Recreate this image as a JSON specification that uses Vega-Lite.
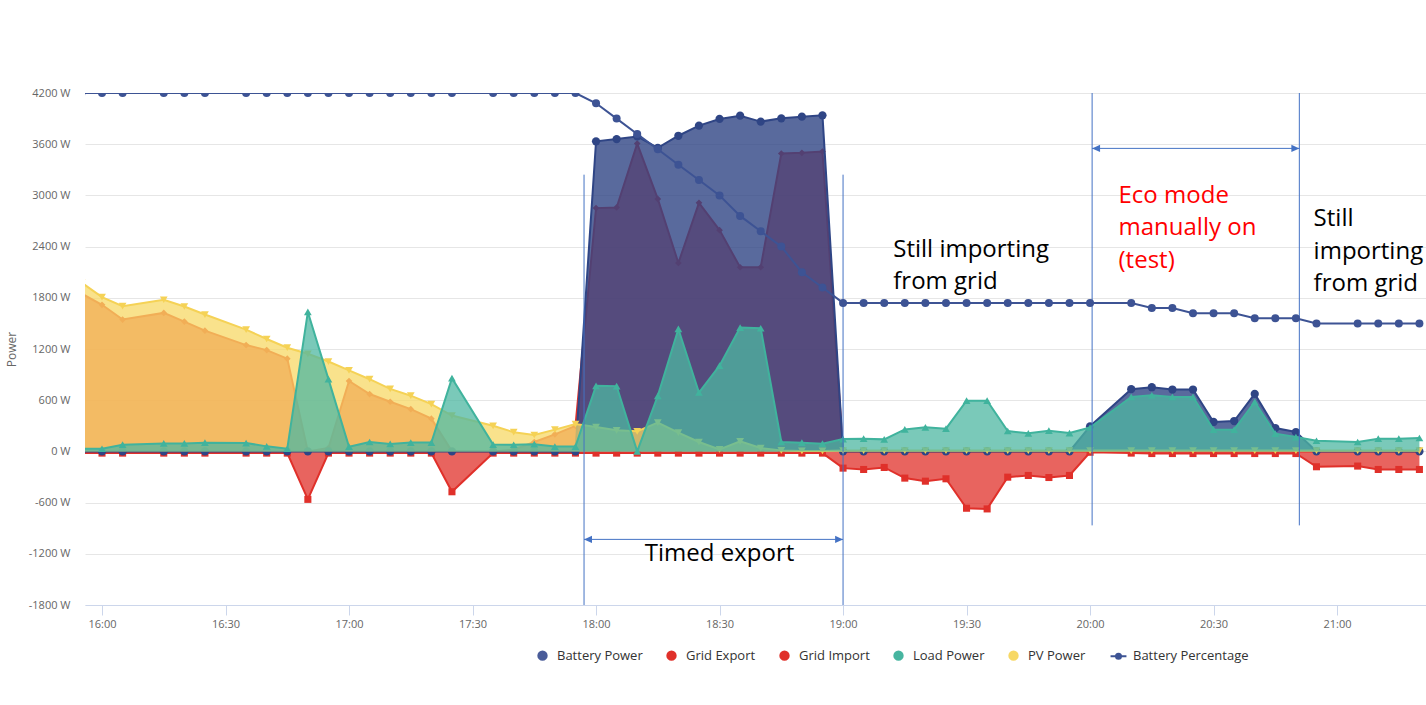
{
  "$schema": "https://vega.github.io/schema/vega-lite/v6.json",
  "width": 1341,
  "height": 512,
  "autosize": {"type": "none"},
  "padding": {"left": 85, "top": 93, "right": 0, "bottom": 100},
  "background": "white",
  "config": {"view": {"stroke": null}},
  "data": {"values": [
    {"t":"2024-01-01T15:55:00","bat":0,"exp":1850,"imp":-20,"load":30,"pv":1980,"pct":100},
    {"t":"2024-01-01T16:00:00","bat":0,"exp":1718,"imp":-20,"load":31,"pv":1808,"pct":100},
    {"t":"2024-01-01T16:05:00","bat":0,"exp":1545,"imp":-20,"load":79,"pv":1702,"pct":100},
    {"t":"2024-01-01T16:15:00","bat":0,"exp":1623,"imp":-20,"load":94,"pv":1777,"pct":100},
    {"t":"2024-01-01T16:20:00","bat":0,"exp":1521,"imp":-20,"load":94,"pv":1698,"pct":100},
    {"t":"2024-01-01T16:25:00","bat":0,"exp":1415,"imp":-20,"load":102,"pv":1604,"pct":100},
    {"t":"2024-01-01T16:35:00","bat":0,"exp":1246,"imp":-20,"load":98,"pv":1427,"pct":100},
    {"t":"2024-01-01T16:40:00","bat":0,"exp":1187,"imp":-20,"load":59,"pv":1317,"pct":100},
    {"t":"2024-01-01T16:45:00","bat":0,"exp":1087,"imp":-20,"load":31,"pv":1215,"pct":100},
    {"t":"2024-01-01T16:50:00","bat":0,"exp":0,"imp":-562,"load":1634,"pv":1144,"pct":100},
    {"t":"2024-01-01T16:55:00","bat":0,"exp":40,"imp":-20,"load":847,"pv":1053,"pct":100},
    {"t":"2024-01-01T17:00:00","bat":0,"exp":825,"imp":-20,"load":55,"pv":950,"pct":100},
    {"t":"2024-01-01T17:05:00","bat":0,"exp":672,"imp":-20,"load":110,"pv":846,"pct":100},
    {"t":"2024-01-01T17:10:00","bat":0,"exp":582,"imp":-20,"load":87,"pv":733,"pct":100},
    {"t":"2024-01-01T17:15:00","bat":0,"exp":495,"imp":-20,"load":103,"pv":653,"pct":100},
    {"t":"2024-01-01T17:20:00","bat":0,"exp":384,"imp":-20,"load":103,"pv":554,"pct":100},
    {"t":"2024-01-01T17:25:00","bat":0,"exp":0,"imp":-473,"load":859,"pv":420,"pct":100},
    {"t":"2024-01-01T17:35:00","bat":0,"exp":0,"imp":-20,"load":80,"pv":300,"pct":100},
    {"t":"2024-01-01T17:40:00","bat":0,"exp":20,"imp":-20,"load":78,"pv":225,"pct":100},
    {"t":"2024-01-01T17:45:00","bat":0,"exp":110,"imp":-20,"load":85,"pv":192,"pct":100},
    {"t":"2024-01-01T17:50:00","bat":0,"exp":200,"imp":-20,"load":57,"pv":255,"pct":100},
    {"t":"2024-01-01T17:55:00","bat":0,"exp":300,"imp":-20,"load":57,"pv":320,"pct":100},
    {"t":"2024-01-01T18:00:00","bat":3634,"exp":2851,"imp":-20,"load":768,"pv":286,"pct":98},
    {"t":"2024-01-01T18:05:00","bat":3660,"exp":2859,"imp":-20,"load":765,"pv":247,"pct":95},
    {"t":"2024-01-01T18:10:00","bat":3691,"exp":3607,"imp":-20,"load":0,"pv":235,"pct":92},
    {"t":"2024-01-01T18:15:00","bat":3556,"exp":2959,"imp":-20,"load":651,"pv":337,"pct":89},
    {"t":"2024-01-01T18:20:00","bat":3699,"exp":2208,"imp":-20,"load":1435,"pv":220,"pct":86},
    {"t":"2024-01-01T18:25:00","bat":3818,"exp":2913,"imp":-20,"load":690,"pv":110,"pct":83},
    {"t":"2024-01-01T18:30:00","bat":3896,"exp":2593,"imp":-20,"load":1004,"pv":24,"pct":80},
    {"t":"2024-01-01T18:35:00","bat":3934,"exp":2158,"imp":-20,"load":1451,"pv":118,"pct":76},
    {"t":"2024-01-01T18:40:00","bat":3865,"exp":2158,"imp":-20,"load":1443,"pv":39,"pct":73},
    {"t":"2024-01-01T18:45:00","bat":3903,"exp":3491,"imp":-20,"load":110,"pv":12,"pct":70},
    {"t":"2024-01-01T18:50:00","bat":3923,"exp":3499,"imp":-20,"load":102,"pv":5,"pct":65},
    {"t":"2024-01-01T18:55:00","bat":3938,"exp":3514,"imp":-20,"load":90,"pv":5,"pct":62},
    {"t":"2024-01-01T19:00:00","bat":0,"exp":0,"imp":-196,"load":145,"pv":10,"pct":59},
    {"t":"2024-01-01T19:05:00","bat":0,"exp":0,"imp":-212,"load":149,"pv":10,"pct":59},
    {"t":"2024-01-01T19:10:00","bat":0,"exp":0,"imp":-188,"load":141,"pv":10,"pct":59},
    {"t":"2024-01-01T19:15:00","bat":0,"exp":0,"imp":-313,"load":258,"pv":10,"pct":59},
    {"t":"2024-01-01T19:20:00","bat":0,"exp":0,"imp":-349,"load":282,"pv":10,"pct":59},
    {"t":"2024-01-01T19:25:00","bat":0,"exp":0,"imp":-321,"load":266,"pv":10,"pct":59},
    {"t":"2024-01-01T19:30:00","bat":0,"exp":0,"imp":-666,"load":595,"pv":10,"pct":59},
    {"t":"2024-01-01T19:35:00","bat":0,"exp":0,"imp":-674,"load":595,"pv":10,"pct":59},
    {"t":"2024-01-01T19:40:00","bat":0,"exp":0,"imp":-302,"load":239,"pv":10,"pct":59},
    {"t":"2024-01-01T19:45:00","bat":0,"exp":0,"imp":-282,"load":212,"pv":10,"pct":59},
    {"t":"2024-01-01T19:50:00","bat":0,"exp":0,"imp":-306,"load":243,"pv":10,"pct":59},
    {"t":"2024-01-01T19:55:00","bat":0,"exp":0,"imp":-282,"load":215,"pv":10,"pct":59},
    {"t":"2024-01-01T20:00:00","bat":294,"exp":0,"imp":-10,"load":280,"pv":10,"pct":59},
    {"t":"2024-01-01T20:10:00","bat":729,"exp":0,"imp":-20,"load":638,"pv":10,"pct":59},
    {"t":"2024-01-01T20:15:00","bat":752,"exp":0,"imp":-25,"load":658,"pv":10,"pct":58},
    {"t":"2024-01-01T20:20:00","bat":725,"exp":0,"imp":-25,"load":638,"pv":10,"pct":58},
    {"t":"2024-01-01T20:25:00","bat":725,"exp":0,"imp":-25,"load":638,"pv":10,"pct":57},
    {"t":"2024-01-01T20:30:00","bat":345,"exp":0,"imp":-25,"load":255,"pv":10,"pct":57},
    {"t":"2024-01-01T20:35:00","bat":356,"exp":0,"imp":-25,"load":255,"pv":10,"pct":57},
    {"t":"2024-01-01T20:40:00","bat":674,"exp":0,"imp":-25,"load":580,"pv":10,"pct":56},
    {"t":"2024-01-01T20:45:00","bat":274,"exp":0,"imp":-25,"load":208,"pv":10,"pct":56},
    {"t":"2024-01-01T20:50:00","bat":227,"exp":0,"imp":-25,"load":168,"pv":10,"pct":56},
    {"t":"2024-01-01T20:55:00","bat":0,"exp":0,"imp":-180,"load":125,"pv":10,"pct":55},
    {"t":"2024-01-01T21:05:00","bat":0,"exp":0,"imp":-172,"load":110,"pv":10,"pct":55},
    {"t":"2024-01-01T21:10:00","bat":0,"exp":0,"imp":-212,"load":149,"pv":10,"pct":55},
    {"t":"2024-01-01T21:15:00","bat":0,"exp":0,"imp":-212,"load":149,"pv":10,"pct":55},
    {"t":"2024-01-01T21:20:00","bat":0,"exp":0,"imp":-212,"load":157,"pv":10,"pct":55}
  ]},
  "datasets": {
    "vlines": [
      {"t":"2024-01-01T17:57:05","top":3243,"bottom":-1800},
      {"t":"2024-01-01T19:00:00","top":3243,"bottom":-1800},
      {"t":"2024-01-01T20:00:30","top":4200,"bottom":-867},
      {"t":"2024-01-01T20:50:50","top":4200,"bottom":-867}
    ],
    "arrows": [
      {"start":"2024-01-01T17:57:05","end":"2024-01-01T19:00:00","level":-1031},
      {"start":"2024-01-01T20:00:30","end":"2024-01-01T20:50:50","level":3551}
    ],
    "notes": [
      {"t":"2024-01-01T19:12:12","level":2356,"text":"Still importing","group":"note"},
      {"t":"2024-01-01T19:12:12","level":1981,"text":"from grid","group":"note"},
      {"t":"2024-01-01T20:06:55","level":2988,"text":"Eco mode","group":"eco"},
      {"t":"2024-01-01T20:06:55","level":2613,"text":"manually on","group":"eco"},
      {"t":"2024-01-01T20:06:55","level":2227,"text":"(test)","group":"eco"},
      {"t":"2024-01-01T20:54:18","level":2719,"text":"Still","group":"note"},
      {"t":"2024-01-01T20:54:18","level":2332,"text":"importing","group":"note"},
      {"t":"2024-01-01T20:54:18","level":1957,"text":"from grid","group":"note"},
      {"t":"2024-01-01T18:30:00","level":-1207,"text":"Timed export","group":"center"}
    ]
  },
  "layer": [
    {
      "layer": [
        {
          "mark": {"type": "area", "color": "#e0302a", "fillOpacity": 0.75, "clip": true},
          "encoding": {
            "x": {"field": "t", "type": "temporal",
              "scale": {"domain": [
                {"year":2024,"month":1,"date":1,"hours":15,"minutes":55,"seconds":52},
                {"year":2024,"month":1,"date":1,"hours":21,"minutes":21,"seconds":36}
              ]},
              "axis": {
                "values": [
                  {"year":2024,"month":1,"date":1,"hours":16,"minutes":0},
                  {"year":2024,"month":1,"date":1,"hours":16,"minutes":30},
                  {"year":2024,"month":1,"date":1,"hours":17,"minutes":0},
                  {"year":2024,"month":1,"date":1,"hours":17,"minutes":30},
                  {"year":2024,"month":1,"date":1,"hours":18,"minutes":0},
                  {"year":2024,"month":1,"date":1,"hours":18,"minutes":30},
                  {"year":2024,"month":1,"date":1,"hours":19,"minutes":0},
                  {"year":2024,"month":1,"date":1,"hours":19,"minutes":30},
                  {"year":2024,"month":1,"date":1,"hours":20,"minutes":0},
                  {"year":2024,"month":1,"date":1,"hours":20,"minutes":30},
                  {"year":2024,"month":1,"date":1,"hours":21,"minutes":0}
                ],
                "format": "%H:%M", "title": null, "grid": false,
                "labelFont": "Open Sans", "labelFontSize": 11, "labelColor": "#666666",
                "tickColor": "#ccd6eb", "tickSize": 10, "domainColor": "#ccd6eb", "domainWidth": 1,
                "labelPadding": 3, "labelFlush": false
              }
            },
            "y": {"field": "imp", "type": "quantitative",
              "scale": {"domain": [-1800, 4200], "nice": false, "zero": false},
              "axis": {
                "values": [-1800, -1200, -600, 0, 600, 1200, 1800, 2400, 3000, 3600, 4200],
                "labelExpr": "datum.value + ' W'",
                "domain": false, "ticks": false, "grid": true, "gridColor": "#e6e6e6",
                "labelPadding": 15, "labelFont": "Open Sans", "labelFontSize": 11, "labelColor": "#666666",
                "title": "Power", "titleFont": "Open Sans", "titleFontSize": 12, "titleFontWeight": "normal",
                "titleColor": "#666666", "titlePadding": 10
              }
            },
            "y2": {"datum": 0}
          }
        },
        {
          "mark": {"type": "line", "color": "#e0302a", "strokeWidth": 2, "clip": true},
          "encoding": {"x": {"field": "t", "type": "temporal"}, "y": {"field": "imp", "type": "quantitative"}}
        },
        {
          "mark": {"type": "point", "shape": "square", "filled": true, "size": 50, "color": "#e0302a", "opacity": 1, "clip": true},
          "encoding": {"x": {"field": "t", "type": "temporal"}, "y": {"field": "imp", "type": "quantitative"}}
        },
        {
          "mark": {"type": "area", "color": "#e0302a", "fillOpacity": 0.75, "clip": true},
          "encoding": {"x": {"field": "t", "type": "temporal"}, "y": {"field": "exp", "type": "quantitative"}, "y2": {"datum": 0}}
        },
        {
          "mark": {"type": "line", "color": "#e0302a", "strokeWidth": 2, "clip": true},
          "encoding": {"x": {"field": "t", "type": "temporal"}, "y": {"field": "exp", "type": "quantitative"}}
        },
        {
          "mark": {"type": "point", "shape": "diamond", "filled": true, "size": 45, "color": "#e0302a", "opacity": 1, "clip": true},
          "encoding": {"x": {"field": "t", "type": "temporal"}, "y": {"field": "exp", "type": "quantitative"}}
        },
        {
          "mark": {"type": "area", "color": "#2f4585", "fillOpacity": 0.8, "clip": true},
          "encoding": {"x": {"field": "t", "type": "temporal"}, "y": {"field": "bat", "type": "quantitative"}, "y2": {"datum": 0}}
        },
        {
          "mark": {"type": "line", "color": "#2f4585", "strokeWidth": 2, "clip": true},
          "encoding": {"x": {"field": "t", "type": "temporal"}, "y": {"field": "bat", "type": "quantitative"}}
        },
        {
          "mark": {"type": "point", "shape": "circle", "filled": true, "size": 68, "color": "#2f4585", "opacity": 1, "clip": true},
          "encoding": {"x": {"field": "t", "type": "temporal"}, "y": {"field": "bat", "type": "quantitative"}}
        },
        {
          "mark": {"type": "area", "color": "#f7d865", "fillOpacity": 0.75, "clip": true},
          "encoding": {"x": {"field": "t", "type": "temporal"}, "y": {"field": "pv", "type": "quantitative"}, "y2": {"datum": 0}}
        },
        {
          "mark": {"type": "line", "color": "#f5d256", "strokeWidth": 2, "clip": true},
          "encoding": {"x": {"field": "t", "type": "temporal"}, "y": {"field": "pv", "type": "quantitative"}}
        },
        {
          "mark": {"type": "point", "shape": "triangle-down", "filled": true, "size": 60, "color": "#f5d256", "opacity": 1, "clip": true},
          "encoding": {"x": {"field": "t", "type": "temporal"}, "y": {"field": "pv", "type": "quantitative"}}
        },
        {
          "mark": {"type": "area", "color": "#4eb7a2", "fillOpacity": 0.75, "clip": true},
          "encoding": {"x": {"field": "t", "type": "temporal"}, "y": {"field": "load", "type": "quantitative"}, "y2": {"datum": 0}}
        },
        {
          "mark": {"type": "line", "color": "#40b39d", "strokeWidth": 2, "clip": true},
          "encoding": {"x": {"field": "t", "type": "temporal"}, "y": {"field": "load", "type": "quantitative"}}
        },
        {
          "mark": {"type": "point", "shape": "triangle-up", "filled": true, "size": 60, "color": "#40b39d", "opacity": 1, "clip": true},
          "encoding": {"x": {"field": "t", "type": "temporal"}, "y": {"field": "load", "type": "quantitative"}}
        },
        {
          "data": {"name": "vlines"},
          "mark": {"type": "rule", "color": "#4472c4", "strokeWidth": 1},
          "encoding": {"x": {"field": "t", "type": "temporal"}, "y": {"field": "top", "type": "quantitative"}, "y2": {"field": "bottom"}}
        },
        {
          "data": {"name": "arrows"},
          "mark": {"type": "rule", "color": "#4472c4", "strokeWidth": 1},
          "encoding": {"x": {"field": "start", "type": "temporal"}, "x2": {"field": "end"}, "y": {"field": "level", "type": "quantitative"}}
        },
        {
          "data": {"name": "arrows"},
          "mark": {"type": "point", "shape": "M0,0L1.8,-0.8L1.8,0.8Z", "filled": true, "size": 78, "color": "#4472c4", "opacity": 1},
          "encoding": {"x": {"field": "start", "type": "temporal"}, "y": {"field": "level", "type": "quantitative"}}
        },
        {
          "data": {"name": "arrows"},
          "mark": {"type": "point", "shape": "M0,0L-1.8,-0.8L-1.8,0.8Z", "filled": true, "size": 78, "color": "#4472c4", "opacity": 1},
          "encoding": {"x": {"field": "end", "type": "temporal"}, "y": {"field": "level", "type": "quantitative"}}
        },
        {
          "data": {"name": "notes"},
          "transform": [{"filter": "datum.group === 'note'"}],
          "mark": {"type": "text", "align": "left", "baseline": "middle", "font": "Open Sans", "fontSize": 24, "color": "#000000"},
          "encoding": {"x": {"field": "t", "type": "temporal"}, "y": {"field": "level", "type": "quantitative"}, "text": {"field": "text"}}
        },
        {
          "data": {"name": "notes"},
          "transform": [{"filter": "datum.group === 'eco'"}],
          "mark": {"type": "text", "align": "left", "baseline": "middle", "font": "Open Sans", "fontSize": 24, "color": "#ff0000"},
          "encoding": {"x": {"field": "t", "type": "temporal"}, "y": {"field": "level", "type": "quantitative"}, "text": {"field": "text"}}
        },
        {
          "data": {"name": "notes"},
          "transform": [{"filter": "datum.group === 'center'"}],
          "mark": {"type": "text", "align": "center", "baseline": "middle", "font": "Open Sans", "fontSize": 24, "color": "#000000"},
          "encoding": {"x": {"field": "t", "type": "temporal"}, "y": {"field": "level", "type": "quantitative"}, "text": {"field": "text"}}
        },
        {
          "transform": [{"filter": "false"}],
          "mark": {"type": "point", "filled": true, "opacity": 1, "strokeWidth": 2},
          "encoding": {
            "fill": {"field": "series", "type": "nominal",
              "scale": {"domain": ["Battery Power", "Grid Export", "Grid Import", "Load Power", "PV Power", "Battery Percentage"],
                        "range": ["#4a5c99", "#e0302a", "#e0302a", "#47b5a0", "#f7d865", "#3d5394"]},
              "legend": {"orient": "none", "legendX": 451, "legendY": 556, "direction": "horizontal", "title": null,
                "labelFont": "Open Sans", "labelFontSize": 13, "labelColor": "#333333", "symbolSize": 70,
                "labelOffset": 8, "columnPadding": 20, "padding": 0, "symbolStrokeWidth": 2, "symbolOpacity": 1}
            },
            "stroke": {"field": "series", "type": "nominal",
              "scale": {"domain": ["Battery Power", "Grid Export", "Grid Import", "Load Power", "PV Power", "Battery Percentage"],
                        "range": ["#4a5c99", "#e0302a", "#e0302a", "#47b5a0", "#f7d865", "#3d5394"]},
              "legend": {"orient": "none", "legendX": 451, "legendY": 556, "direction": "horizontal", "title": null,
                "labelFont": "Open Sans", "labelFontSize": 13, "labelColor": "#333333", "symbolSize": 70,
                "labelOffset": 8, "columnPadding": 20, "padding": 0, "symbolStrokeWidth": 2, "symbolOpacity": 1}
            },
            "shape": {"field": "series", "type": "nominal",
              "scale": {"domain": ["Battery Power", "Grid Export", "Grid Import", "Load Power", "PV Power", "Battery Percentage"],
                        "range": ["circle", "circle", "circle", "circle", "circle", "M-1.9,0H1.9M-0.6,0A0.6,0.6,0,1,0,0.6,0A0.6,0.6,0,1,0,-0.6,0"]},
              "legend": {"orient": "none", "legendX": 451, "legendY": 556, "direction": "horizontal", "title": null,
                "labelFont": "Open Sans", "labelFontSize": 13, "labelColor": "#333333", "symbolSize": 70,
                "labelOffset": 8, "columnPadding": 20, "padding": 0, "symbolStrokeWidth": 2, "symbolOpacity": 1}
            }
          }
        }
      ]
    },
    {
      "layer": [
        {
          "mark": {"type": "line", "color": "#3d5394", "strokeWidth": 2, "clip": true},
          "encoding": {
            "x": {"field": "t", "type": "temporal"},
            "y": {"field": "pct", "type": "quantitative", "scale": {"domain": [0, 100], "nice": false, "zero": false}, "axis": null}
          }
        },
        {
          "mark": {"type": "point", "shape": "circle", "filled": true, "size": 64, "color": "#3d5394", "opacity": 1, "clip": true},
          "encoding": {
            "x": {"field": "t", "type": "temporal"},
            "y": {"field": "pct", "type": "quantitative"}
          }
        }
      ]
    }
  ],
  "resolve": {"scale": {"y": "independent"}}
}
